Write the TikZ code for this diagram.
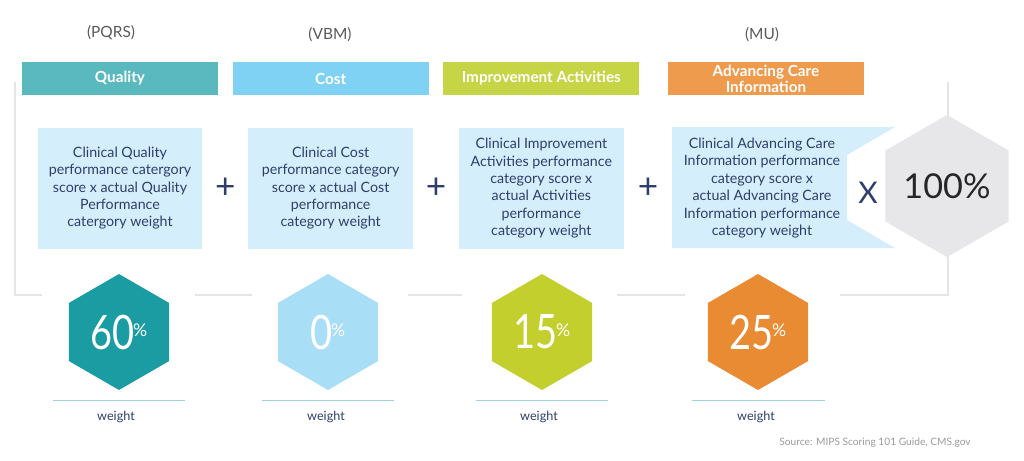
\documentclass[tikz,border=0pt]{standalone}
\usepackage{fontspec}
\setmainfont{Lato}
\usepackage{graphicx}
\usepackage{xcolor}
\usepackage{tikz}
\usetikzlibrary{positioning,shapes,calc}
\definecolor{navy}{HTML}{2E3E6B}
\definecolor{qualhead}{HTML}{59B9BF}
\definecolor{costhead}{HTML}{7FD2F4}
\definecolor{iahead}{HTML}{C6D545}
\definecolor{acihead}{HTML}{EE9B4E}
\definecolor{boxblue}{HTML}{D5EEFB}
\definecolor{hexteal}{HTML}{1B9CA3}
\definecolor{hexblue}{HTML}{A9DEF7}
\definecolor{hexgreen}{HTML}{C3CF2C}
\definecolor{hexorange}{HTML}{E98B33}
\definecolor{hexgray}{HTML}{E7E7E9}
\definecolor{framegray}{HTML}{E3E5E7}
\definecolor{ulinecol}{HTML}{9ED3DE}
\newcommand{\pct}[1]{\scalebox{0.8}[1]{#1}\kern-1pt\raisebox{7pt}{\fontsize{10}{10}\selectfont\%}}
\tikzset{%
	head/.style     = {rectangle, minimum height=0.66cm, minimum width=3.92cm,
		inner sep=0pt, text=white, align=center,
		font=\fontsize{8.7}{7.8}\selectfont\bfseries},
	block/.style    = {rectangle, fill=boxblue, minimum height=2.42cm,
		minimum width=3.3cm, inner sep=0pt, align=center, text=navy,
		font=\fontsize{8.1}{9.9}\selectfont},
	hexa/.style     = {regular polygon, regular polygon sides=6,
		shape border rotate=30, minimum size=2.32cm, inner sep=0pt,
		text=white, font=\fontsize{27}{27}\selectfont},
	tag/.style      = {text=black!65, font=\fontsize{8.8}{9}\selectfont},
	opsign/.style   = {text=navy, font=\fontsize{20}{20}\selectfont},
	wlabel/.style   = {text=navy, font=\fontsize{7.2}{8}\selectfont},
	uline/.style    = {ulinecol, line width=0.8pt},
	frame/.style    = {framegray, line width=1pt}
}
\begin{document}
\begin{tikzpicture}[x=0.02cm, y=-0.02cm, node distance=0.28cm]
	\useasboundingbox (0,0) rectangle (1024,460);
	% light frame behind the weights
	\draw[frame] (15,82) -- (15,295) -- (42,295);
	\draw[frame] (195,295) -- (252,295);
	\draw[frame] (408,295) -- (462,295);
	\draw[frame] (617,295) -- (685,295);
	\draw[frame] (840,295) -- (948,295) -- (948,82);
	
	\draw
	node at (111,33) [tag] (pqrs) {(PQRS)}
	node at (330,35) [tag] (vbm) {(VBM)}
	node at (762,35) [tag] (mu) {(MU)};
	
	\draw
	node at (120,78.5) [head, fill=qualhead] (quality) {Quality}
	node [head, fill=costhead, right=0.28cm of quality] (cost) {Cost}
	node [head, fill=iahead, right=0.28cm of cost] (impr) {Improvement Activities}
	node [head, fill=acihead, right=0.56cm of impr] (aci) {Advancing Care\\Information};
	
	\fill[boxblue] (672,127) -- (895,127) -- (847,155) -- (847,220) -- (895,248) -- (672,248) -- cycle;
	\draw
	node [block, below=0.64cm of quality] (qbox) {Clinical Quality\\ performance catergory\\ score x actual Quality\\ Performance\\ catergory weight}
	node [block, below=0.64cm of cost] (cbox) {Clinical Cost\\ performance category\\ score x actual Cost\\ performance\\ category weight}
	node [block, below=0.64cm of impr] (ibox) {Clinical Improvement\\ Activities performance\\ category score x\\ actual Activities\\ performance\\ category weight}
	node at (762,188) [block, fill=none] (abox) {Clinical Advancing Care\\ Information performance\\ category score x\\ actual Advancing Care\\ Information performance\\ category weight};
	
	\node[opsign] (plus1) at ($(qbox.east)!0.5!(cbox.west)$) {+};
	\node[opsign] (plus2) at ($(cbox.east)!0.5!(ibox.west)$) {+};
	\node[opsign] (plus3) at ($(ibox.east)!0.5!(672,188)$) {+};
	\node[opsign, font=\fontsize{17}{17}\selectfont] (times) at (868,193) {X};
	\node[hexa, fill=hexgray, minimum size=2.78cm, text=black!85,
		font=\fontsize{19.5}{20}\selectfont] (hundred) at (947,186) {100\%};
	
	\node[hexa, fill=hexteal] (h60) at (119,332) {\pct{60}};
	\node[hexa, fill=hexblue] (h0) at (328,332) {\pct{0}};
	\node[hexa, fill=hexgreen] (h15) at (542,332) {\pct{15}};
	\node[hexa, fill=hexorange] (h25) at (758,332) {\pct{25}};
	
	\draw[uline] ([xshift=-1.33cm,yshift=-0.2cm]h60.south) -- ([xshift=1.33cm,yshift=-0.2cm]h60.south);
	\draw[uline] ([xshift=-1.33cm,yshift=-0.2cm]h0.south) -- ([xshift=1.33cm,yshift=-0.2cm]h0.south);
	\draw[uline] ([xshift=-1.33cm,yshift=-0.2cm]h15.south) -- ([xshift=1.33cm,yshift=-0.2cm]h15.south);
	\draw[uline] ([xshift=-1.33cm,yshift=-0.2cm]h25.south) -- ([xshift=1.33cm,yshift=-0.2cm]h25.south);
	
	\draw
	node at (116,417) [wlabel] (w60) {weight}
	node at (326,417) [wlabel] (w0) {weight}
	node at (539,417) [wlabel] (w15) {weight}
	node at (756,417) [wlabel] (w25) {weight};
	
	\node[text=black!40, font=\fontsize{5.8}{6}\selectfont] (src) at (875,443) {Source: MIPS Scoring 101 Guide, CMS.gov};
\end{tikzpicture}
\end{document}
